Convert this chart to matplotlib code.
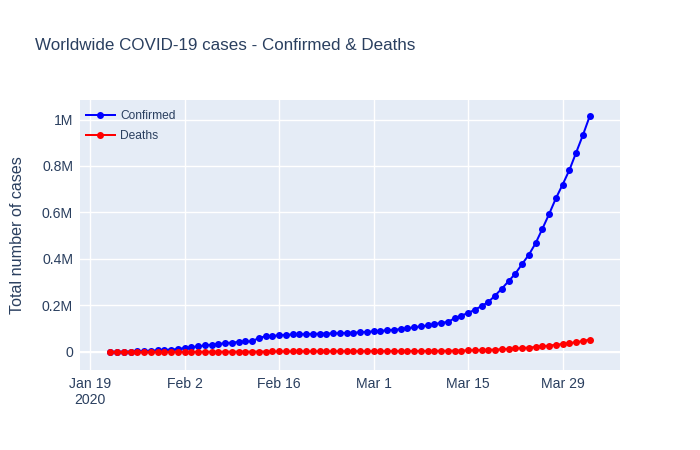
import numpy as np
import pandas as pd
import matplotlib
matplotlib.use("Agg")
import matplotlib.pyplot as plt
import matplotlib.dates as mdates

plt.rcParams['font.family'] = ['Liberation Sans', 'DejaVu Sans']

dates = pd.date_range("2020-01-22", "2020-04-02", freq="D")

confirmed = [555, 654, 941, 1434, 2118, 2927, 5578, 6166, 8234, 9927,
             12038, 16787, 19881, 23892, 27635, 30794, 34391, 37120, 40150, 42762,
             44802, 45221, 60368, 66885, 69030, 71224, 73258, 75136, 75639, 76197,
             76823, 78579, 78965, 79568, 80413, 81395, 82754, 84120, 86011, 88369,
             90306, 92840, 95120, 97886, 101801, 105847, 109821, 113590, 118620, 125875,
             128352, 145205, 156101, 167454, 181574, 197102, 214821, 242570, 272208, 304507,
             336953, 378231, 418041, 467653, 529591, 593291, 660706, 720117, 782365, 857487,
             932605, 1013157]

deaths = [17, 18, 26, 42, 56, 82, 131, 133, 171, 213,
          259, 362, 426, 492, 564, 634, 719, 806, 906, 1013,
          1113, 1118, 1371, 1523, 1666, 1770, 1868, 2007, 2122, 2247,
          2251, 2458, 2469, 2629, 2708, 2770, 2814, 2872, 2941, 2996,
          3085, 3160, 3254, 3348, 3460, 3558, 3802, 3988, 4262, 4615,
          4720, 5404, 5819, 6440, 7126, 7905, 8733, 9867, 11299, 12973,
          14623, 16497, 18615, 21181, 23970, 27198, 30652, 33925, 37582, 42107,
          46809, 52983]

yticks = [0, 200000, 400000, 600000, 800000, 1000000]
ytick_labels = ["0", "0.2M", "0.4M", "0.6M", "0.8M", "1M"]
xticks = pd.to_datetime(["2020-01-19", "2020-02-02", "2020-02-16",
                         "2020-03-01", "2020-03-15", "2020-03-29"])
xtick_labels = ["Jan 19\n2020", "Feb 2", "Feb 16", "Mar 1", "Mar 15", "Mar 29"]

text_col = "#2a3f5f"
px = 0.72  # pt per pixel at dpi 100

fig = plt.figure(figsize=(7, 4.5), dpi=100)
ax = fig.add_axes([80/700, 80/450, 540/700, 270/450])
ax.set_facecolor("#E5ECF6")

ax.plot(dates, confirmed, color="blue", lw=2*px, marker="o", ms=7*px, mew=0,
        label="Confirmed", zorder=3)
ax.plot(dates, deaths, color="red", lw=2*px, marker="o", ms=7*px, mew=0,
        label="Deaths", zorder=3)

ax.set_xlim(dates[0] - pd.Timedelta(days=4.5), dates[-1] + pd.Timedelta(days=4.5))
ax.set_ylim(-78000, 1084000)

ax.set_yticks(yticks)
ax.set_yticklabels(ytick_labels)
ax.set_xticks(xticks)
ax.set_xticklabels(xtick_labels, linespacing=1.2)

ax.grid(True, color="white", lw=1)
ax.axhline(0, color="white", lw=2*px, zorder=2)
ax.set_axisbelow(True)
for s in ax.spines.values():
    s.set_visible(False)
ax.tick_params(length=0, labelsize=14*px, colors=text_col, pad=5)

ax.set_ylabel("Total number of cases", fontsize=14*px*1.15, color=text_col, labelpad=12)
fig.text(35/700, 1 - 45/450, "Worldwide COVID-19 cases - Confirmed & Deaths",
         fontsize=17*px, color=text_col, va="center", ha="left")

leg = ax.legend(loc="upper left", frameon=False, fontsize=12*px, handlelength=2.4,
                handletextpad=0.45, borderaxespad=0.0, labelspacing=0.65,
                bbox_to_anchor=(0.002, 0.98))
for t in leg.get_texts():
    t.set_color(text_col)

fig.savefig("out.png", dpi=100)
